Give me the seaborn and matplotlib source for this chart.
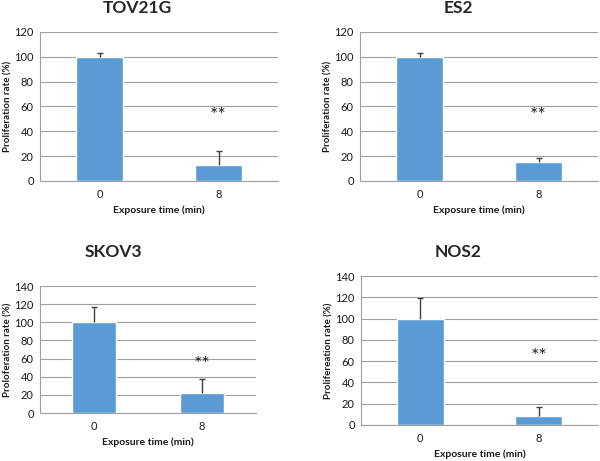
import matplotlib
matplotlib.use("Agg")
import matplotlib.pyplot as plt
import pandas as pd
import numpy as np
import seaborn as sns

times = ["0", "8"]

tov_mean = [100, 13]
tov_err = [3, 11]
es2_mean = [100, 15.5]
es2_err = [3, 3]
skov_mean = [100, 22]
skov_err = [16.5, 16]
nos_mean = [100, 8.5]
nos_err = [19.5, 8]

star_pos = [53, 53, 53, 64]

titles = ["TOV21G", "ES2", "SKOV3", "NOS2"]
ylabels = ["Proliferation rate (%)", "Proliferation rate (%)",
           "Proloferation rate (%)", "Prolifereation rate (%)"]
ymax = [120, 120, 140, 140]

sns.set_style("white")
plt.rcParams['font.family'] = ['Lato', 'DejaVu Sans']

fig = plt.figure(figsize=(6, 4.61), dpi=100)

axes_pos = [
    [0.0667, 0.6074, 0.3967, 0.3232],
    [0.600, 0.6074, 0.3967, 0.3232],
    [0.0667, 0.1041, 0.360, 0.2755],
    [0.6017, 0.0781, 0.395, 0.3232],
]
title_xy = [(137, 8), (458, 8), (113, 252), (458, 252)]

means = [tov_mean, es2_mean, skov_mean, nos_mean]
errs = [tov_err, es2_err, skov_err, nos_err]

for i in range(4):
    ax = fig.add_axes(axes_pos[i])
    df = pd.DataFrame({"time": times, "rate": means[i]})
    sns.barplot(data=df, x="time", y="rate", color="#5B9BD5", saturation=1,
                width=0.4, ax=ax, errorbar=None)
    # upper-only error bars, cap just at the top
    xs = np.arange(len(times))
    tops = np.array(means[i]) + np.array(errs[i])
    ax.vlines(xs, means[i], tops, color="#404040", linewidth=1, zorder=3)
    ax.scatter(xs, tops, marker="_", s=25, color="#404040", linewidths=1, zorder=3)
    ax.text(1, star_pos[i], "**", ha="center", va="center", fontsize=14, color="#222222")

    ax.set_ylim(0, ymax[i])
    ax.set_yticks(np.arange(0, ymax[i] + 1, 20))
    ax.set_xlim(-0.5, 1.5)
    ax.yaxis.grid(True, color="#a0a0a0", linewidth=0.8)
    ax.set_axisbelow(True)
    for s in ["top", "right"]:
        ax.spines[s].set_visible(False)
    for s in ["left", "bottom"]:
        ax.spines[s].set_color("#a0a0a0")
        ax.spines[s].set_linewidth(0.8)

    ax.set_xticks([0, 1])
    ax.set_xticklabels(times)
    ax.set_xticks([-0.5, 0.5, 1.5], minor=True)
    ax.tick_params(axis="x", which="major", length=0, labelsize=8, pad=6, labelcolor="#1a1a1a")
    ax.tick_params(axis="x", which="minor", length=3, color="#a0a0a0", direction="out")
    ax.tick_params(axis="y", length=3, color="#a0a0a0", direction="out", labelsize=8, pad=1.5,
                   labelcolor="#1a1a1a")

    ax.set_xlabel("Exposure time (min)", fontsize=7.5, fontweight="bold", labelpad=4, color="#1a1a1a")
    ax.set_ylabel(ylabels[i], fontsize=7, fontweight="bold", labelpad=1, color="#1a1a1a")

    fig.text(title_xy[i][0] / 600, 1 - title_xy[i][1] / 461, titles[i],
             ha="center", va="center", fontsize=12.5, fontweight="bold")

fig.savefig("out.png", dpi=100)
